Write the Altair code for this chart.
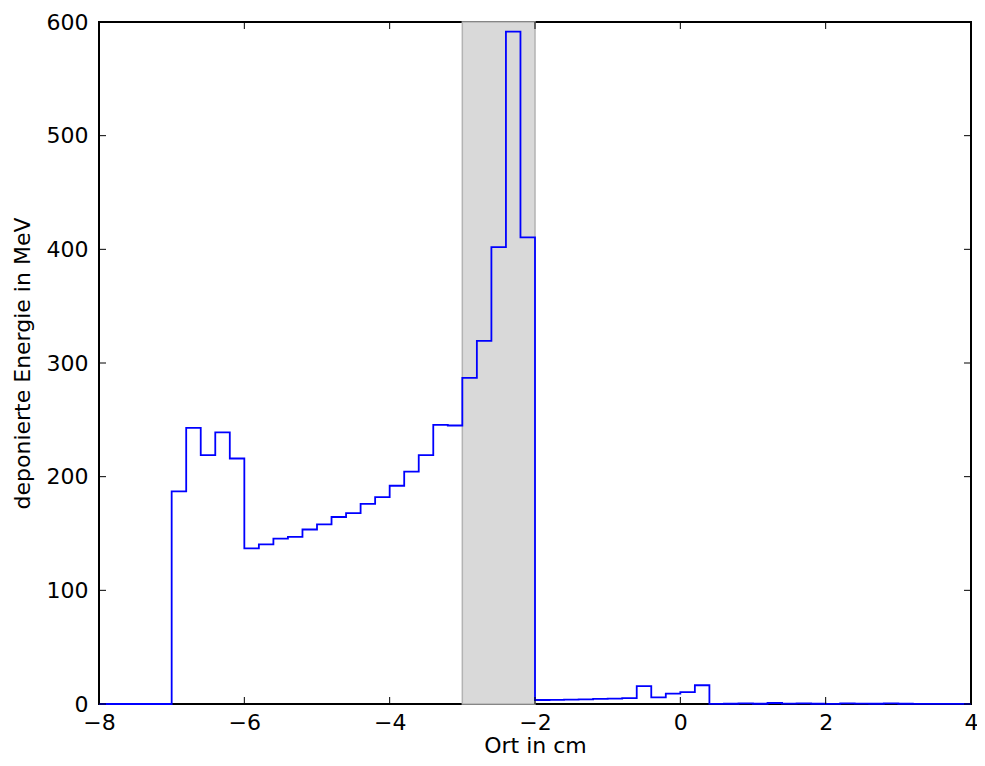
import altair as alt
import pandas as pd

# ---- data ----
x_start = -8.0
bin_width = 0.2
energy = [
    0, 0, 0, 0, 0,
    187, 243, 219, 239, 216,
    137, 140.5, 145.5, 147, 153.5,
    158, 164.5, 168, 176, 182,
    192, 204.5, 219, 245.5, 245,
    287, 319.5, 402, 591.5, 410.5,
    3.5, 3.7, 3.9, 4.1, 4.5,
    4.8, 5.2, 15.8, 5.9, 9.2,
    10.5, 16.5, 0.1, 0.2, 0.5,
    0.2, 0.9, 0.4, 0.6, 0.2,
    0.1, 0.5, 0.4, 0.2, 0.5,
    0.2, 0.1, 0.1, 0.1, 0.1,
]
band_start = [-3.0]
band_end = [-2.0]
x_ticks = [-8, -6, -4, -2, 0, 2, 4]
y_ticks = [0, 100, 200, 300, 400, 500, 600]

W, H = 872, 682

edges = [round(x_start + bin_width * i, 4) for i in range(len(energy) + 1)]
vals = energy + [energy[-1]]
hist_df = pd.DataFrame({"x": edges, "y": vals})
band_df = pd.DataFrame({"a": band_start, "b": band_end})
xt_df = pd.DataFrame({"t": x_ticks})
yt_df = pd.DataFrame({"t": y_ticks})

xscale = alt.Scale(domain=[-8, 4], nice=False, zero=False)
yscale = alt.Scale(domain=[0, 600], nice=False)

xaxis = alt.Axis(values=x_ticks, title="Ort in cm", format="d", labelFlush=False,
                 labelOverlap=False, labelPadding=8, titlePadding=2,
                 labelExpr="replace(datum.label, '-', '\u2212')")
yaxis = alt.Axis(values=y_ticks, title="deponierte Energie in MeV", format="d",
                 labelPadding=11, titlePadding=12, labelOverlap=False)

band = alt.Chart(band_df).mark_rect(
    fill="#d9d9d9", stroke="#b3b3b3", strokeWidth=1.5
).encode(
    x=alt.X("a:Q", scale=xscale, axis=xaxis),
    x2="b:Q",
    y=alt.value(0),
    y2=alt.value(H),
)

line = alt.Chart(hist_df).mark_line(
    interpolate="step-after", color="#0000ff", strokeWidth=1.8
).encode(
    x=alt.X("x:Q", scale=xscale, axis=xaxis),
    y=alt.Y("y:Q", scale=yscale, axis=yaxis),
)

tl = 7
tick_bottom = alt.Chart(xt_df).mark_rule(color="black", strokeWidth=1).encode(
    x=alt.X("t:Q", scale=xscale), y=alt.value(H), y2=alt.value(H - tl))
tick_top = alt.Chart(xt_df).mark_rule(color="black", strokeWidth=1).encode(
    x=alt.X("t:Q", scale=xscale), y=alt.value(0), y2=alt.value(tl))
tick_left = alt.Chart(yt_df).mark_rule(color="black", strokeWidth=1).encode(
    y=alt.Y("t:Q", scale=yscale), x=alt.value(0), x2=alt.value(tl))
tick_right = alt.Chart(yt_df).mark_rule(color="black", strokeWidth=1).encode(
    y=alt.Y("t:Q", scale=yscale), x=alt.value(W - tl), x2=alt.value(W))

chart = alt.layer(band, line, tick_bottom, tick_top, tick_left, tick_right).properties(
    width=W, height=H,
    background="white",
    autosize=alt.AutoSizeParams(type="none"),
    padding={"left": 91, "top": 14, "right": 6, "bottom": 54},
).configure_view(
    stroke="black", strokeWidth=2
).configure_axis(
    grid=False, domain=False, ticks=False, tickSize=0,
    labelFont="DejaVu Sans", labelFontSize=22, labelColor="black",
    titleFont="DejaVu Sans", titleFontSize=22, titleFontWeight="normal",
    titleColor="black",
)

chart.save("out.html", embed_options={"renderer": "svg", "actions": False})
